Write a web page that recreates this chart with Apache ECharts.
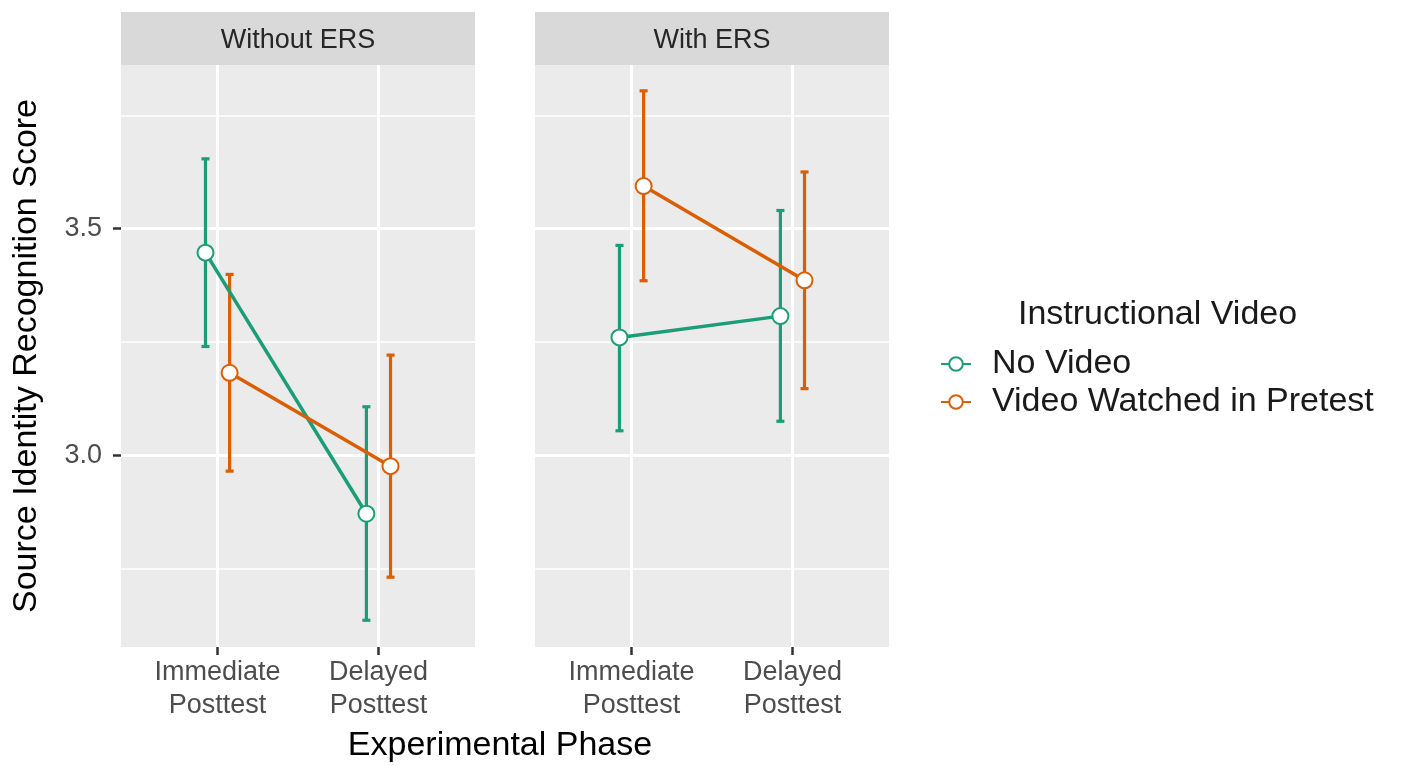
<!DOCTYPE html>
<html>
<head>
<meta charset="utf-8">
<title>Source Identity Recognition Score</title>
<script src="https://cdn.jsdelivr.net/npm/echarts@6/dist/echarts.min.js"></script>
<style>
  html, body { margin: 0; padding: 0; background: #ffffff; }
  #chart { width: 1405px; height: 766px; }
</style>
</head>
<body>
<div id="chart"></div>
<script>
// Categories and facets
const phases = ['Immediate\nPosttest', 'Delayed\nPosttest'];
const panels = ['Without ERS', 'With ERS'];
const groups = ['No Video', 'Video Watched in Pretest'];

// Mean scores and interval bounds, one entry per phase
const noVideoWithoutMean = [3.447, 2.871];
const noVideoWithoutLow  = [3.240, 2.636];
const noVideoWithoutHigh = [3.654, 3.107];
const videoWithoutMean   = [3.182, 2.976];
const videoWithoutLow    = [2.965, 2.731];
const videoWithoutHigh   = [3.399, 3.221];

const noVideoWithMean = [3.260, 3.307];
const noVideoWithLow  = [3.054, 3.075];
const noVideoWithHigh = [3.463, 3.540];
const videoWithMean   = [3.594, 3.386];
const videoWithLow    = [3.385, 3.147];
const videoWithHigh   = [3.804, 3.625];

// Axis ticks
const yMajorTicks = [3.0, 3.5];
const yMinorTicks = [2.75, 3.25, 3.75];
const yRange = [2.577, 3.861];

const colors = ['#1B9E77', '#D95F02'];
const dodge = [-0.075, 0.075];
const capWidth = 0.05;
const FONT = '"Liberation Sans", Arial, Helvetica, sans-serif';

const panelLefts = [121, 535];
const panelWidth = 354;
const panelTop = 65;
const panelHeight = 582;

const chart = echarts.init(document.getElementById('chart'), null, { renderer: 'canvas' });

function points(means, g) {
  return means.map((m, i) => [i + 1 + dodge[g], m]);
}
function intervals(lows, highs, g) {
  return lows.map((lo, i) => [i + 1 + dodge[g], lo, highs[i]]);
}

function errorBarItem(color) {
  return function (params, api) {
    const x = api.value(0);
    const lo = api.coord([x, api.value(1)]);
    const hi = api.coord([x, api.value(2)]);
    const half = api.size([capWidth, 0])[0] / 2;
    const style = { stroke: color, lineWidth: 3.2 };
    return {
      type: 'group',
      children: [
        { type: 'line', shape: { x1: lo[0], y1: lo[1], x2: hi[0], y2: hi[1] }, style },
        { type: 'line', shape: { x1: hi[0] - half, y1: hi[1], x2: hi[0] + half, y2: hi[1] }, style },
        { type: 'line', shape: { x1: lo[0] - half, y1: lo[1], x2: lo[0] + half, y2: lo[1] }, style }
      ]
    };
  };
}

const panelData = [
  {
    means: [noVideoWithoutMean, videoWithoutMean],
    lows: [noVideoWithoutLow, videoWithoutLow],
    highs: [noVideoWithoutHigh, videoWithoutHigh]
  },
  {
    means: [noVideoWithMean, videoWithMean],
    lows: [noVideoWithLow, videoWithLow],
    highs: [noVideoWithHigh, videoWithHigh]
  }
];

const grids = [], xAxes = [], yAxes = [], series = [], graphics = [];

panels.forEach((name, p) => {
  grids.push({
    left: panelLefts[p], top: panelTop, width: panelWidth, height: panelHeight,
    show: true, backgroundColor: '#EBEBEB', borderWidth: 0
  });
  xAxes.push({
    gridIndex: p, type: 'value', min: 0.4, max: 2.6,
    axisLine: { show: false },
    splitLine: { show: false },
    axisTick: { show: true, customValues: [1, 2], length: 8, lineStyle: { color: '#333333', width: 2.5 } },
    axisLabel: {
      show: true, customValues: [1, 2], margin: 9,
      formatter: v => phases[Math.round(v) - 1],
      color: '#4D4D4D', fontFamily: FONT, fontSize: 27, lineHeight: 33, align: 'center'
    }
  });
  yAxes.push({
    gridIndex: p, type: 'value', min: yRange[0], max: yRange[1],
    axisLine: { show: false },
    splitLine: { show: false },
    axisTick: { show: p === 0, customValues: yMajorTicks, length: 8, lineStyle: { color: '#333333', width: 2.5 } },
    axisLabel: {
      show: p === 0, customValues: yMajorTicks, margin: 19,
      formatter: v => v.toFixed(1),
      color: '#4D4D4D', fontFamily: FONT, fontSize: 27
    }
  });

  // panel grid lines
  series.push({
    type: 'line', xAxisIndex: p, yAxisIndex: p, data: [], silent: true, z: 1,
    markLine: {
      silent: true, symbol: 'none', animation: false,
      label: { show: false },
      data: [
        ...yMinorTicks.map(v => ({ yAxis: v, lineStyle: { color: '#ffffff', width: 1.6, type: 'solid' } })),
        ...yMajorTicks.map(v => ({ yAxis: v, lineStyle: { color: '#ffffff', width: 3, type: 'solid' } })),
        ...phases.map((c, i) => ({ xAxis: i + 1, lineStyle: { color: '#ffffff', width: 3, type: 'solid' } }))
      ]
    }
  });

  groups.forEach((g, gi) => {
    const d = panelData[p];
    series.push({
      type: 'custom', xAxisIndex: p, yAxisIndex: p, z: 10, silent: true,
      renderItem: errorBarItem(colors[gi]),
      data: intervals(d.lows[gi], d.highs[gi], gi)
    });
  });
  groups.forEach((g, gi) => {
    const d = panelData[p];
    series.push({
      name: g, type: 'line', xAxisIndex: p, yAxisIndex: p, z: 12,
      data: points(d.means[gi], gi),
      color: colors[gi],
      symbol: 'circle', symbolSize: 16,
      itemStyle: { color: '#ffffff', borderColor: colors[gi], borderWidth: 2 },
      lineStyle: { color: colors[gi], width: 3.5 },
      emphasis: { disabled: true },
      animation: false
    });
  });

  // facet strip
  graphics.push({
    type: 'rect', left: panelLefts[p], top: 12,
    shape: { width: panelWidth, height: 53 },
    style: { fill: '#D9D9D9' }, silent: true
  });
  graphics.push({
    type: 'text', x: panelLefts[p] + panelWidth / 2, y: 41,
    style: {
      text: name, fill: '#262626', font: '27px ' + FONT,
      textAlign: 'center', textVerticalAlign: 'middle'
    }, silent: true
  });
});

// axis titles
graphics.push({
  type: 'text', x: 500, y: 746,
  style: { text: 'Experimental Phase', fill: '#000000', font: '34px ' + FONT, textAlign: 'center', textVerticalAlign: 'middle' },
  silent: true
});
graphics.push({
  type: 'text', x: 27, y: 356, rotation: Math.PI / 2,
  style: { text: 'Source Identity Recognition Score', fill: '#000000', font: '34px ' + FONT, textAlign: 'center', textVerticalAlign: 'middle' },
  silent: true
});

chart.setOption({
  animation: false,
  title: {
    text: 'Instructional Video', left: 1018, top: 298, padding: 0,
    textStyle: { fontFamily: FONT, fontSize: 34, fontWeight: 'normal', color: '#1A1A1A' }
  },
  legend: {
    data: groups, orient: 'vertical', left: 940, top: 345, padding: 0,
    itemWidth: 30, itemHeight: 17, itemGap: 0,
    textStyle: { fontFamily: FONT, fontSize: 34, color: '#1A1A1A', lineHeight: 38, padding: [0, 0, 0, 16] },
    selectedMode: false
  },
  grid: grids,
  xAxis: xAxes,
  yAxis: yAxes,
  series: series,
  graphic: graphics
});
</script>
</body>
</html>
